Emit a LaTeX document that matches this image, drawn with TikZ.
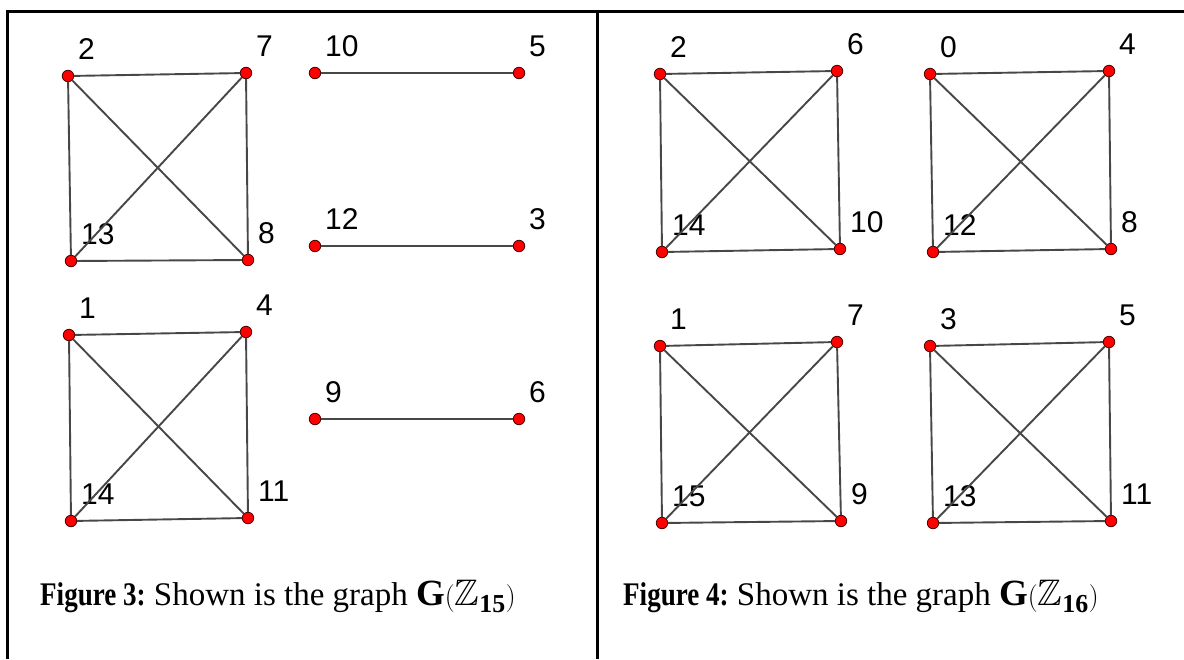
\documentclass[tikz,border=0pt]{standalone}
\usepackage{amssymb}
\usepackage{graphicx}
\usepackage{fontspec}
\setmainfont{Liberation Serif}
\newfontfamily\arialfont{Liberation Sans}
\begin{document}
\begin{tikzpicture}[x=1pt,y=-1pt,
  vert/.style={circle,fill=red,draw=black!70!red,line width=0.8pt,inner sep=0pt,minimum size=11.5pt},
  lab/.style={anchor=west,inner sep=0pt,font=\arialfont\fontsize{30}{32}\selectfont},
  edge/.style={draw=black!72,line width=1.9pt},
  frame/.style={draw=black,line width=3pt},
  captext/.style={anchor=base west,inner sep=0pt,font=\fontsize{33}{38}\selectfont}]
\useasboundingbox (0,0) rectangle (1184,659);
\newcommand\vtx[4]{\node[vert] (#1) at (#2,#3) {}; \node[lab] (#1l) at (#2+10,#3-27) {#4};}
\newcommand\figlab[1]{\scalebox{0.82}[1]{\textbf{Figure #1:}}}
\newcommand\graphof[1]{\scalebox{1.12}{$\mathbf{G}(\mathbb{Z}_{\mathbf{#1}})$}}
% frame
\coordinate (tl) at (7,11);
\coordinate (tr) at (1184,11);
\coordinate (bl) at (7,659);
\coordinate (tm) at (597,11);
\coordinate (bm) at (597,659);
\draw[frame] (tr) -- (tl) -- (bl);
\draw[frame] (tm) -- (bm);
% Figure 3
\vtx{La}{68}{76}{2}
\vtx{Lb}{246}{73}{7}
\vtx{Lc}{71}{261}{13}
\vtx{Ld}{248}{260}{8}
\vtx{Le}{69}{335}{1}
\vtx{Lf}{246}{332}{4}
\vtx{Lg}{71}{521}{14}
\vtx{Lh}{248}{518}{11}
\vtx{Li}{315}{73}{10}
\vtx{Lj}{519}{73}{5}
\vtx{Lk}{315}{246}{12}
\vtx{Ll}{519}{246}{3}
\vtx{Lm}{315}{419}{9}
\vtx{Ln}{519}{419}{6}
\foreach \a/\b in {La/Lb,La/Lc,La/Ld,Lb/Lc,Lb/Ld,Lc/Ld,Le/Lf,Le/Lg,Le/Lh,Lf/Lg,Lf/Lh,Lg/Lh,Li/Lj,Lk/Ll,Lm/Ln}
  \path[edge] (\a) -- (\b);
% Figure 4
\vtx{Ra}{660}{74}{2}
\vtx{Rb}{837}{71}{6}
\vtx{Rc}{662}{252}{14}
\vtx{Rd}{840}{249}{10}
\vtx{Re}{930}{74}{0}
\vtx{Rf}{1109}{71}{4}
\vtx{Rg}{933}{252}{12}
\vtx{Rh}{1111}{249}{8}
\vtx{Ri}{660}{346}{1}
\vtx{Rj}{837}{342}{7}
\vtx{Rk}{662}{523}{15}
\vtx{Rl}{841}{521}{9}
\vtx{Rm}{930}{346}{3}
\vtx{Rn}{1109}{342}{5}
\vtx{Ro}{933}{523}{13}
\vtx{Rp}{1111}{521}{11}
\foreach \a/\b/\c/\d in {Ra/Rb/Rc/Rd,Re/Rf/Rg/Rh,Ri/Rj/Rk/Rl,Rm/Rn/Ro/Rp}{
  \path[edge] (\a) -- (\b);
  \path[edge] (\a) -- (\c);
  \path[edge] (\a) -- (\d);
  \path[edge] (\b) -- (\c);
  \path[edge] (\b) -- (\d);
  \path[edge] (\c) -- (\d);
}
% captions
\node[captext] (cap3) at (40,605) {\figlab{3} Shown is the graph \graphof{15}};
\node[captext] (cap4) at (623,605) {\figlab{4} Shown is the graph \graphof{16}};
\end{tikzpicture}
\end{document}
